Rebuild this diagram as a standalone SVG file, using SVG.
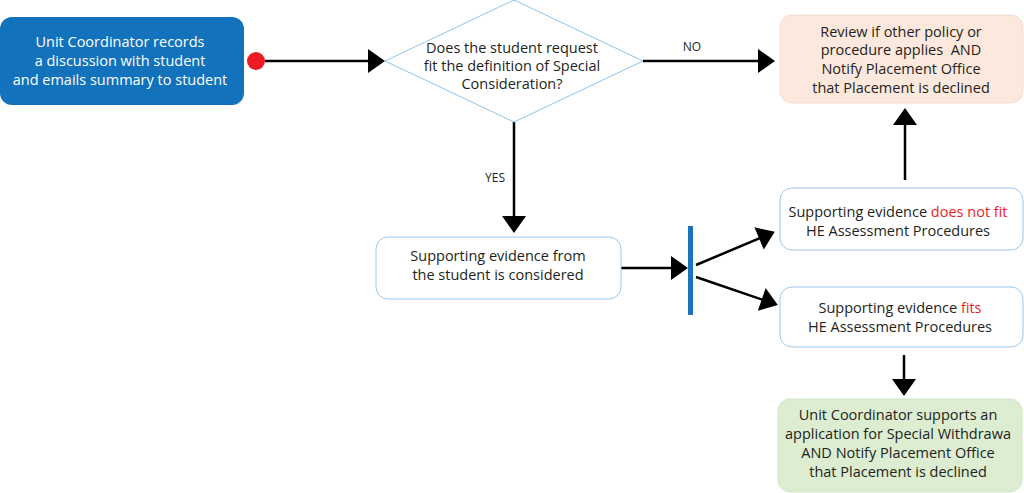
<svg xmlns="http://www.w3.org/2000/svg" width="1024" height="493" viewBox="0 0 1024 493">
<style>
text{font-family:"Open Sans","Liberation Sans",sans-serif;font-size:14.5px;fill:#231f20;text-anchor:middle}
.w{fill:#ffffff}
.r{fill:#ed1c24}
.lbl{font-size:12px}
.box{fill:#ffffff;stroke:#9cc8ec;stroke-width:1}
.con{stroke:#000;stroke-width:2.5;fill:none}
</style>
<defs>
<marker id="ah" markerUnits="userSpaceOnUse" markerWidth="18" markerHeight="24" viewBox="0 0 17 24" refX="14" refY="12" orient="auto">
<path d="M0,0 L17,12 L0,24 Z" fill="#000"/>
</marker>
</defs>
<g id="connectors">
<circle cx="256" cy="61" r="9" fill="#ed1c24"/>
<line class="con" x1="265" y1="61" x2="382" y2="61" marker-end="url(#ah)"/>
<line class="con" x1="643" y1="61" x2="772" y2="61" marker-end="url(#ah)"/>
<text class="lbl" x="692" y="51">NO</text>
<line class="con" x1="514" y1="122" x2="514" y2="230" marker-end="url(#ah)"/>
<text class="lbl" x="495" y="182">YES</text>
<line class="con" x1="621" y1="268" x2="685" y2="268" marker-end="url(#ah)"/>
<rect x="688" y="226" width="5" height="89" fill="#1a73bb"/>
<line class="con" x1="696" y1="265" x2="772" y2="233" marker-end="url(#ah)"/>
<line class="con" x1="696" y1="277" x2="775" y2="304" marker-end="url(#ah)"/>
<line class="con" x1="905" y1="180" x2="905" y2="111" marker-end="url(#ah)"/>
<line class="con" x1="904" y1="355" x2="904" y2="393" marker-end="url(#ah)"/>
</g>
<g id="start">
<rect x="0" y="17" width="244" height="88" rx="12" fill="#1272bb"/>
<text class="w" x="120" y="47">Unit Coordinator records</text>
<text class="w" x="120" y="66">a discussion with student</text>
<text class="w" x="120" y="85">and emails summary to student</text>
</g>
<g id="decision">
<polygon points="514,0 643,61 514,122 385,61" fill="#ffffff" stroke="#8ec3e8" stroke-width="1"/>
<text x="512" y="53">Does the student request</text>
<text x="512" y="71">fit the definition of Special</text>
<text x="512" y="89">Consideration?</text>
</g>
<g id="review">
<rect x="780" y="15" width="243" height="88" rx="12" fill="#fde8dd" stroke="#f3ddd2"/>
<text x="901" y="37">Review if other policy or</text>
<text x="901" y="55">procedure applies &#160;AND</text>
<text x="901" y="74">Notify Placement Office</text>
<text x="901" y="93">that Placement is declined</text>
</g>
<g id="evidence">
<rect class="box" x="376" y="237" width="245" height="62" rx="12"/>
<text x="498" y="261">Supporting evidence from</text>
<text x="498" y="280">the student is considered</text>
</g>
<g id="notfit">
<rect class="box" x="780" y="188" width="243" height="62" rx="12"/>
<text x="898" y="217">Supporting evidence <tspan class="r">does not fit</tspan></text>
<text x="898" y="236">HE Assessment Procedures</text>
</g>
<g id="fits">
<rect class="box" x="780" y="287" width="243" height="60" rx="12"/>
<text x="900" y="313">Supporting evidence <tspan class="r">fits</tspan></text>
<text x="900" y="332">HE Assessment Procedures</text>
</g>
<g id="support">
<rect x="778" y="399" width="244" height="93" rx="12" fill="#dcedd1" stroke="#d3e6c6"/>
<text x="898" y="420">Unit Coordinator supports an</text>
<text x="898" y="439">application for Special Withdrawa</text>
<text x="898" y="458">AND Notify Placement Office</text>
<text x="898" y="477">that Placement is declined</text>
</g>
</svg>
